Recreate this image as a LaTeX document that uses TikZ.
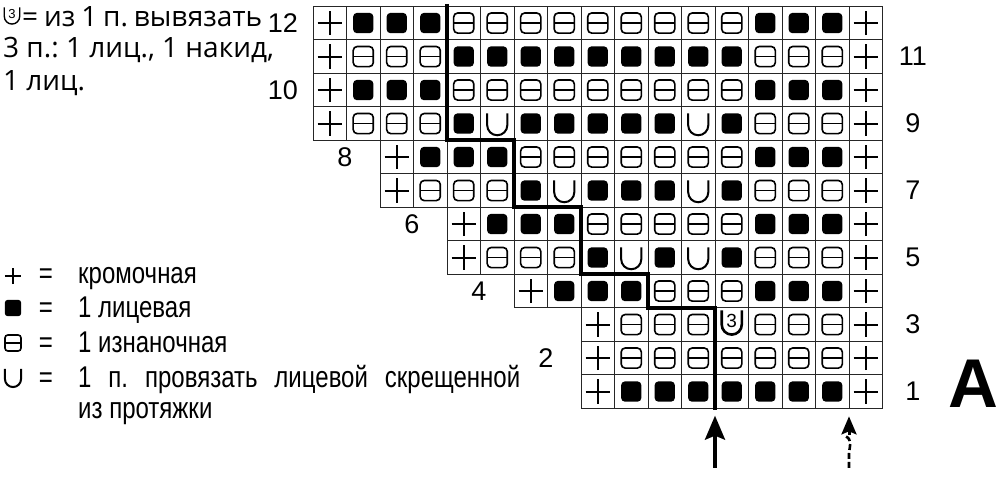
\documentclass[tikz,border=0pt]{standalone}
\usepackage{fontspec}
\setmainfont{Liberation Sans}
\newfontfamily\topfont{Open Sans}
\newfontfamily\narrowfont[FakeStretch=0.8]{Liberation Sans}
\usetikzlibrary{arrows.meta}
\frenchspacing
\tikzset{
 gridline/.style={draw=black!85,line width=0.9pt},
 symline/.style={line width=1.6pt},
 plusline/.style={line width=2pt},
 uline/.style={line width=2pt},
 stair/.style={line width=4pt, line join=miter},
 rownum/.style={inner sep=0pt, font=\fontsize{27}{27}\selectfont},
 toptext/.style={inner sep=0pt, anchor=base west, font=\topfont\fontsize{28}{28}\selectfont},
 legtext/.style={inner sep=0pt, anchor=base west, font=\narrowfont\fontsize{30}{30}\selectfont},
 legeq/.style={inner sep=0pt, anchor=base, font=\narrowfont\fontsize{30}{30}\selectfont},
 arrowline/.style={line width=3.5pt},
}
\newcommand\ksymP{\draw[plusline] (-0.36,0) -- (0.36,0) (0,-0.36) -- (0,0.36);}
\newcommand\ksymK{\fill[rounded corners=3.5pt] (-0.3,-0.3) rectangle (0.3,0.3);}
\newcommand\ksymR{\draw[symline, rounded corners=4pt] (-0.3,-0.3) rectangle (0.3,0.3); \draw[symline] (-0.3,0) -- (0.3,0);}
\newcommand\ksymU{\draw[uline] (-0.3,0.3) -- (-0.3,-0.05) arc[start angle=180,end angle=360,radius=0.3] -- (0.3,0.3);}
\newcommand\ksymT{\draw[line width=2.6pt] (-0.3,0.42) -- (-0.3,0.0) arc[start angle=180,end angle=360,radius=0.3] -- (0.3,0.42);
  \node[inner sep=0pt, font=\fontsize{19}{19}\selectfont] (inc) at (0,0.12) {3};}
\begin{document}
\begin{tikzpicture}[x=33.5pt,y=33.5pt]
\useasboundingbox (-9.3433,-2.7373) rectangle (20.5075,12.1881);
% chart cells
\foreach \r/\st/\cells in {
 12/0/{P,K,K,K,R,R,R,R,R,R,R,R,R,K,K,K,P},
 11/0/{P,R,R,R,K,K,K,K,K,K,K,K,K,R,R,R,P},
 10/0/{P,K,K,K,R,R,R,R,R,R,R,R,R,K,K,K,P},
 9/0/{P,R,R,R,K,U,K,K,K,K,K,U,K,R,R,R,P},
 8/2/{P,K,K,K,R,R,R,R,R,R,R,K,K,K,P},
 7/2/{P,R,R,R,K,U,K,K,K,U,K,R,R,R,P},
 6/4/{P,K,K,K,R,R,R,R,R,K,K,K,P},
 5/4/{P,R,R,R,K,U,K,U,K,R,R,R,P},
 4/6/{P,K,K,K,R,R,R,K,K,K,P},
 3/8/{P,R,R,R,T,R,R,R,P},
 2/8/{P,R,R,R,R,R,R,R,P},
 1/8/{P,K,K,K,K,K,K,K,P}} {
  \foreach \s [count=\i from 0] in \cells {
    \draw[gridline] (\st+\i,\r-1) rectangle ++(1,1);
    \begin{scope}[shift={(\st+\i+0.5,\r-0.5)}]
      \csname ksym\s\endcsname
    \end{scope}
  }
}
% staircase
\draw[stair] (4,12.07) -- (4,8) -- (6,8) -- (6,6) -- (8,6) -- (8,4) -- (10,4) -- (10,3) -- (12,3) -- (12,-0.05);
% row numbers
\foreach \n/\x in {12/-0.896,10/-0.896,8/0.955,6/2.955,4/4.955,2/6.955}
  \node[rownum] (L\n) at (\x,\n-0.5) {\n};
\foreach \n in {11,9,7,5,3,1}
  \node[rownum] (R\n) at (17.91,\n-0.5) {\n};
% big letter
\node[inner sep=0pt, font=\fontsize{69}{69}\selectfont\bfseries] (bigA) at (19.72,0.725) {A};
% arrows
\coordinate (a1s) at (12,-1.78);
\coordinate (a1e) at (12,-0.22);
\draw[arrowline, -{Stealth[length=24pt,width=20pt,inset=4pt]}] (a1s) -- (a1e);
\coordinate (a2s) at (16,-1.78);
\coordinate (a2m) at (16,-0.8);
\coordinate (a2e) at (16,-0.24);
\draw[line width=3pt, -{Stealth[length=18pt,width=15pt,inset=3pt]}] (a2m) -- (a2e);
\draw[line width=2.6pt, dash pattern=on 6pt off 3pt] (a2s) -- (16,-1.35) .. controls (16.02,-1.1) and (16.12,-0.95) .. (15.88,-0.82);
% top-left legend
\begin{scope}[shift={(-8.985,11.7)}]
  \draw[line width=1.4pt] (-0.23,0.27) -- (-0.23,0.0) arc[start angle=180,end angle=360,radius=0.23] -- (0.23,0.27);
  \node[inner sep=0pt, font=\fontsize{13}{13}\selectfont] (incsmall) at (0,0.08) {3};
\end{scope}
\node[toptext] (t1) at (-8.687,11.382) {\makebox[240pt][s]{= из 1 п. вывязать}};
\node[toptext] (t2) at (-9.254,10.486) {3 п.: 1 лиц., 1 накид,};
\node[toptext] (t3) at (-9.254,9.501) {1 лиц.};
% bottom legend symbols
\draw[plusline] (-9.195,3.949) -- (-8.715,3.949) (-8.955,3.709) -- (-8.955,4.189);
\fill[rounded corners=2.5pt] (-9.195,2.753) rectangle (-8.715,3.233);
\draw[symline, rounded corners=3pt] (-9.195,1.709) rectangle (-8.715,2.189);
\draw[symline] (-9.195,1.949) -- (-8.715,1.949);
\draw[uline] (-9.195,1.174) -- (-9.195,0.874) arc[start angle=180,end angle=360,radius=0.24] -- (-8.715,1.174);
% bottom legend text
\foreach \y [count=\k] in {3.725,2.710,1.666,0.621}
  \node[legeq] (eq\k) at (-7.97,\y) {=};
\node[legtext] (l1) at (-7.015,3.725) {кромочная};
\node[legtext] (l2) at (-7.015,2.710) {1 лицевая};
\node[legtext] (l3) at (-7.015,1.666) {1 изнаночная};
\node[legtext] (l4) at (-7.015,0.621) {\makebox[442pt][s]{1 п. провязать лицевой скрещенной}};
\node[legtext] (l5) at (-7.015,-0.319) {из протяжки};
\end{tikzpicture}
\end{document}
